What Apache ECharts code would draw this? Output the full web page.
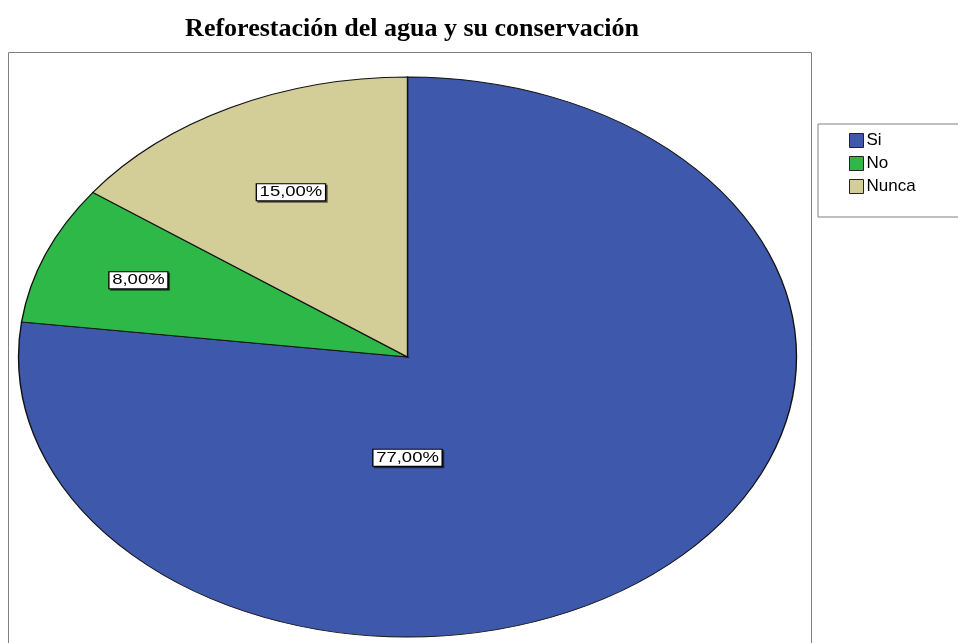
<!DOCTYPE html>
<html>
<head>
<meta charset="utf-8">
<script src="https://cdn.jsdelivr.net/npm/echarts@6/dist/echarts.min.js"></script>
<style>
html,body{margin:0;padding:0;background:#fff;}
#chart{width:958px;height:643px;}
</style>
</head>
<body>
<div id="chart"></div>
<script>
// ---- data ----
const titleText = 'Reforestación del agua y su conservación';
const categories = ['Si', 'No', 'Nunca'];
const values = [77, 8, 15];
const colors = ['#3E58AC', '#2EB848', '#D3CE97'];

// ---- layout (styles) ----
const CX = 407.5, CY = 357, RX = 389, RY = 280;

const total = values.reduce((a, b) => a + b, 0);
function fmt(v) { return (v / total * 100).toFixed(2).replace('.', ',') + '%'; }

function makeRender(idx) {
  return function (params, api) {
    let before = 0;
    for (let k = 0; k < idx; k++) before += values[k];
    const start = -Math.PI / 2 + 2 * Math.PI * before / total;
    const end = start + 2 * Math.PI * values[idx] / total;
    const share = values[idx] / total;
    let ang, f;
    if (share > 0.5) { ang = Math.PI / 2; f = 0.36; }
    else { ang = (start + end) / 2; f = 0.84 - 1.2 * share; }
    const lx = CX + RX * f * Math.cos(ang);
    const ly = CY + RY * f * Math.sin(ang);
    return {
      type: 'group',
      children: [
        {
          type: 'sector',
          x: CX, y: CY, scaleX: RX / RY, scaleY: 1,
          shape: { cx: 0, cy: 0, r0: 0, r: RY, startAngle: start, endAngle: end, clockwise: true },
          style: { fill: colors[idx], stroke: '#111', lineWidth: 1, strokeNoScale: true }
        },
        {
          type: 'text',
          x: lx, y: ly, scaleX: 1.32, scaleY: 1,
          z2: 10,
          style: {
            text: fmt(values[idx]),
            font: '14px "Liberation Sans", Arial, sans-serif',
            fill: '#000',
            align: 'center', verticalAlign: 'middle',
            backgroundColor: '#fff', borderColor: '#000', borderWidth: 1,
            padding: [1, 2, 1, 2],
            shadowColor: 'rgba(0,0,0,0.55)', shadowOffsetX: 1.5, shadowOffsetY: 1.5, shadowBlur: 0
          }
        }
      ]
    };
  };
}

const series = categories.map((name, i) => ({
  type: 'custom',
  name: name,
  coordinateSystem: 'none',
  itemStyle: { color: colors[i] },
  data: [[values[i]]],
  renderItem: makeRender(i),
  silent: true
}));

const chart = echarts.init(document.getElementById('chart'), null, { renderer: 'canvas' });
chart.setOption({
  animation: false,
  backgroundColor: '#fff',
  title: {
    text: titleText,
    left: 407, top: 11, textAlign: 'center',
    textStyle: { fontFamily: '"Liberation Serif", "Times New Roman", serif', fontWeight: 'bold', fontSize: 26, color: '#000' }
  },
  legend: {
    data: categories,
    orient: 'vertical',
    left: 818, top: 124,
    padding: [8, 100, 22, 31],
    itemWidth: 14, itemHeight: 14, itemGap: 6,
    icon: 'rect',
    borderColor: '#808080', borderWidth: 1,
    itemStyle: { borderColor: '#222', borderWidth: 1 },
    textStyle: { fontFamily: '"Liberation Sans", Arial, sans-serif', fontSize: 17, color: '#000', padding: [0, 0, 0, -2] },
    selectedMode: false
  },
  graphic: [
    {
      type: 'rect', z: -10,
      shape: { x: 8.5, y: 52.5, width: 803, height: 640 },
      style: { fill: 'none', stroke: '#808080', lineWidth: 1 }
    }
  ],
  series: series
});
</script>
</body>
</html>
